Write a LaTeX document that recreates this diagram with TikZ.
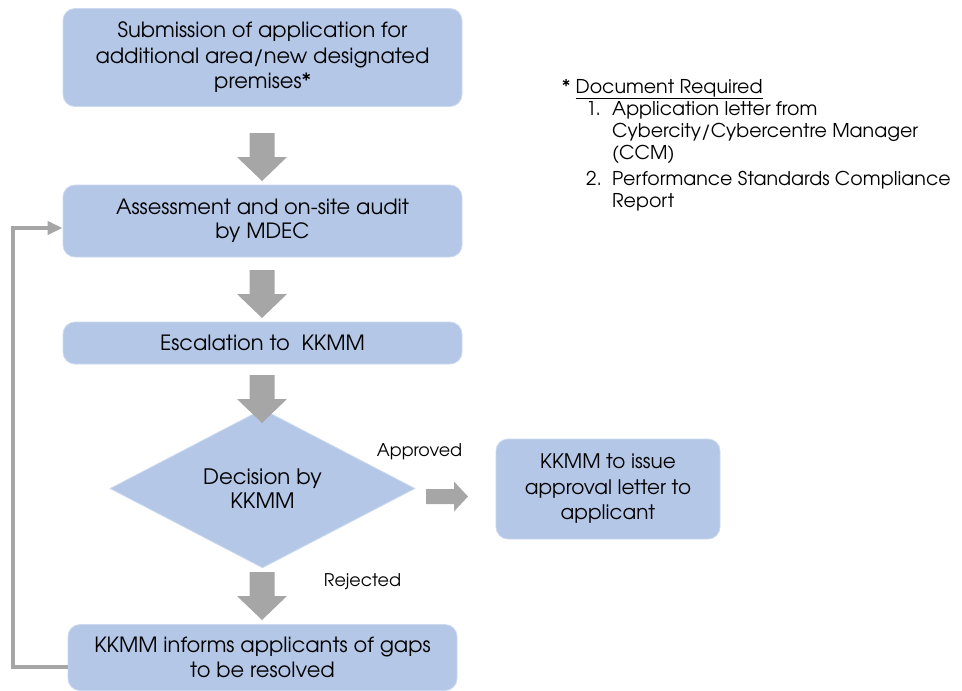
\documentclass[tikz,border=0pt]{standalone}
\usepackage{fontspec}
\setmainfont{TeX Gyre Adventor}
\usetikzlibrary{shapes.geometric,arrows.meta,calc}
\definecolor{boxblue}{RGB}{180,199,231}
\definecolor{boxedge}{RGB}{204,218,241}
\definecolor{arrgray}{RGB}{166,166,166}
\begin{document}
\begin{tikzpicture}[x=1pt,y=-1pt,
  box/.style={fill=boxblue, draw=boxedge, line width=0.8pt, rounded corners=12pt, align=center, inner sep=0pt,
    font=\fontsize{21}{24.5}\selectfont, text=black},
  decbox/.style={diamond, fill=boxblue, draw=boxedge, line width=0.8pt, align=center, inner sep=0pt,
    font=\fontsize{21.3}{24.5}\selectfont, text=black},
  lbl/.style={font=\fontsize{17.5}{20}\selectfont, text=black},
  note/.style={font=\fontsize{19}{22}\selectfont, text=black, align=left, inner sep=0pt, anchor=north west},
  loopline/.style={draw=arrgray, line width=3.5pt, -{Triangle[length=15pt,width=13pt]}},
  downarr/.pic={\fill[arrgray] (-12.5,0) -- (12.5,0) -- (12.5,24) -- (25,24) -- (0,48) -- (-25,24) -- (-12.5,24) -- cycle;},
  rightarr/.pic={\fill[arrgray] (0,-7.5) -- (28,-7.5) -- (28,-15) -- (42,0) -- (28,15) -- (28,7.5) -- (0,7.5) -- cycle;}
]
\useasboundingbox (0,0) rectangle (962,691);

\node[box, minimum width=399pt, minimum height=98pt, font=\fontsize{21}{25.5}\selectfont] (sub) at (262.5,57.5)
  {Submission of application for\\additional area/new designated\\premises*};
\node[box, minimum width=399pt, minimum height=72pt] (assess) at (262.5,221)
  {Assessment and on-site audit\\by MDEC};
\node[box, minimum width=399pt, minimum height=42pt] (esc) at (262.5,343)
  {Escalation to\ \ KKMM};
\node[decbox, minimum width=305pt, minimum height=127pt] (dec) at (262.5,488.5)
  {Decision by\\KKMM};
\node[box, minimum width=224pt, minimum height=100pt, font=\fontsize{20}{25.5}\selectfont] (issue) at (608,489)
  {KKMM to issue\\approval letter to\\applicant};
\node[box, minimum width=389pt, minimum height=66pt] (inform) at (262.5,657.5)
  {KKMM informs applicants of gaps\\to be resolved};

\pic at (262,133) {downarr};
\pic at (262,270) {downarr};
\pic at (262,375) {downarr};
\pic at (262,572) {downarr};
\pic at (426,496.5) {rightarr};

\node[lbl] (appr) at (419.5,452) {Approved};
\node[lbl] (rej) at (362.5,582) {Rejected};

\coordinate (lb) at (13,667);
\coordinate (lt) at (13,228);
\draw[loopline] (inform.west|-lb) -- (lb) -- (lt) -- (assess.west|-lt);

\node[note] (docs) at (562,79)
  {* \underline{Document Required}\\
   \hspace*{24pt}\makebox[26pt][l]{1.}Application letter from\\
   \hspace*{50pt}Cybercity/Cybercentre Manager\\
   \hspace*{50pt}(CCM)\\[4pt]
   \hspace*{24pt}\makebox[26pt][l]{2.}Performance Standards Compliance\\
   \hspace*{50pt}Report};
\end{tikzpicture}
\end{document}
